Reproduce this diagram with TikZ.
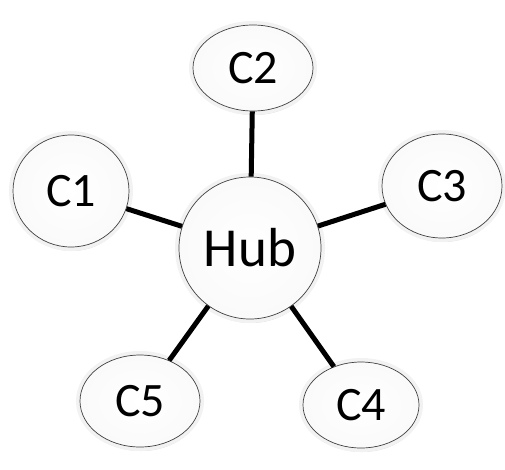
\documentclass[tikz,border=0pt]{standalone}
\usepackage{fontspec}
\setmainfont{Carlito}
\usetikzlibrary{shapes.geometric, shadows}

\tikzset{
	halo/.style={preaction={draw=gray!10, line width=8pt}},
	bubble/.style={draw=gray!50!black, line width=0.7pt, shading=radial, inner color=white, outer color=gray!4,
		drop shadow={shadow xshift=1pt, shadow yshift=-4pt, opacity=0.35, fill=gray!80}, halo},
	hubnode/.style={bubble, circle, minimum size=142pt, inner sep=0pt, font=\fontsize{55}{60}\selectfont},
	client/.style={bubble, ellipse, inner sep=0pt, font=\fontsize{48}{52}\selectfont},
	link/.style={line width=5pt, black}
}

\begin{document}
\begin{tikzpicture}[x=1pt, y=-1pt]
			\useasboundingbox (0,0) rectangle (505,469);
			
			% Draw hub and clients
			\node[hubnode] (hub) at (250,248) {Hub};
			\node[client, minimum width=116pt, minimum height=112pt] (c1) at (71,191) {C1};
			\node[client, minimum width=120pt, minimum height=86pt] (c2) at (253,68) {C2};
			\node[client, minimum width=120pt, minimum height=104pt] (c3) at (442,186) {C3};
			\node[client, minimum width=116pt, minimum height=86pt] (c4) at (361,405) {C4};
			\node[client, minimum width=120pt, minimum height=92pt] (c5) at (140,401) {C5};
			
			% Draw links
			\foreach \c in {c1,c2,c3,c4,c5}
				\draw[link] (hub) -- (\c);
		\end{tikzpicture}
\end{document}
